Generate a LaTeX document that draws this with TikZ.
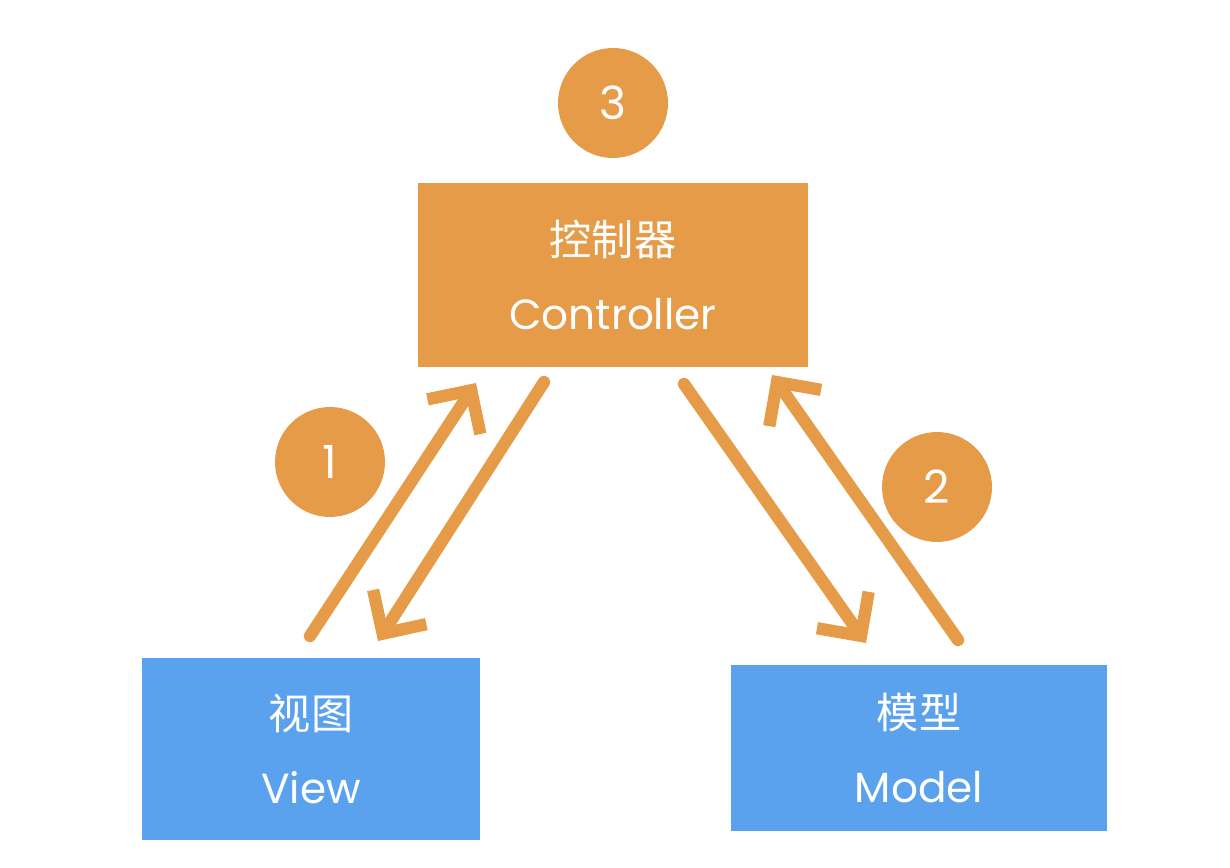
\documentclass[tikz,border=0pt]{standalone}
\usepackage{fontspec}
\setmainfont{Poppins}
\newfontfamily\cjk{Noto Sans CJK SC}
\usetikzlibrary{arrows.meta,positioning,calc}
\definecolor{mvcorange}{HTML}{E59B48}
\definecolor{mvcblue}{HTML}{5AA2EE}

\begin{document}
\begin{tikzpicture}[x=0.02cm,y=-0.02cm,
    box/.style={fill=#1,text=white,align=center,inner sep=0pt,font=\fontsize{24}{42}\selectfont},
    badge/.style={circle,fill=mvcorange,text=white,minimum size=2.2cm,inner sep=0pt,font=\fontsize{26}{30}\selectfont},
    flow/.style={draw=mvcorange,line width=7pt,line cap=round,-{Straight Barb[length=18pt,width=36pt,line width=7pt]}}]
    \useasboundingbox (0,0) rectangle (1230,868);
    \node[box=mvcorange,minimum width=7.8cm,minimum height=3.68cm] (ctrl) at (613,275) {{\cjk 控制器}\\Controller};
    \node[box=mvcblue,minimum width=6.76cm,minimum height=3.64cm] (view) at (311,749) {{\cjk 视图}\\View};
    \node[box=mvcblue,minimum width=7.52cm,minimum height=3.34cm] (model) at (919,748) {{\cjk 模型}\\Model};
    \node[badge] (n3) at (613,103) {3};
    \node[badge] (n1) at (330,462) {1};
    \node[badge] (n2) at (937,487) {2};
    % arrow ends
    \coordinate (v1) at (310,636);
    \coordinate (c1) at (476,383);
    \coordinate (c2) at (544,382);
    \coordinate (v2) at (378,641);
    \coordinate (c3) at (684,384);
    \coordinate (m3) at (866,643);
    \coordinate (m4) at (958,640);
    \coordinate (c4) at (772,375);
    \draw[flow] (v1)--(c1);
    \draw[flow] (c2)--(v2);
    \draw[flow] (c3)--(m3);
    \draw[flow] (m4)--(c4);
\end{tikzpicture}
\end{document}
